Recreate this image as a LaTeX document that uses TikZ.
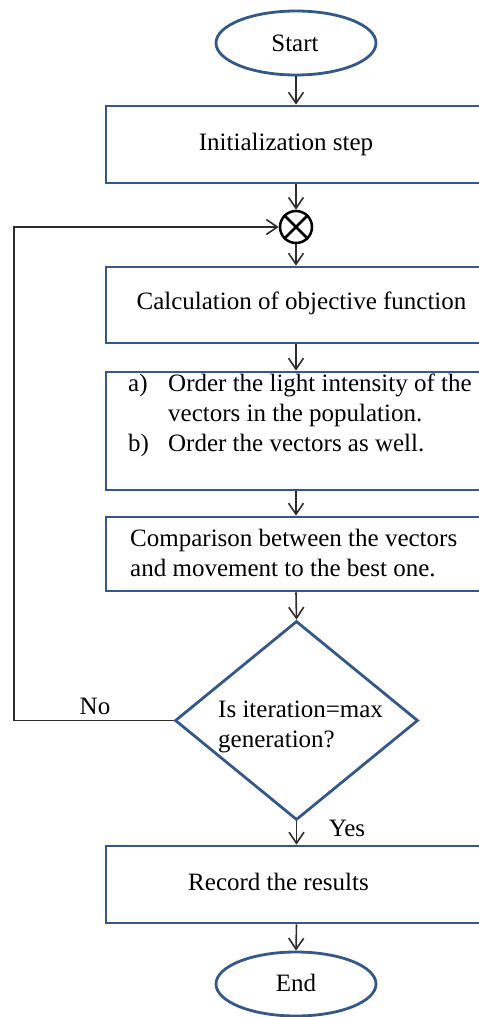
\documentclass[tikz,border=0pt]{standalone}
\usepackage{fontspec}
\setmainfont{Liberation Serif}
\usetikzlibrary{shapes.geometric,arrows.meta}
\definecolor{boxblue}{RGB}{52,88,138}
\definecolor{conn}{RGB}{45,45,45}
\tikzset{
  x=1pt, y=-1pt,
  every node/.style={font=\fontsize{25}{30}\selectfont},
  stepbox/.style={draw=boxblue, line width=2.8pt, rectangle, minimum width=378pt, inner sep=0pt},
  termin/.style={draw=boxblue, line width=2.8pt, ellipse, minimum width=160pt, minimum height=64pt, inner sep=0pt},
  decis/.style={draw=boxblue, line width=2.8pt, diamond, minimum width=243pt, minimum height=199pt, inner sep=0pt},
  txt/.style={inner sep=0pt, text=black},
  flow/.style={draw=conn, line width=1.6pt, -{Straight Barb[length=11pt,width=15pt,line width=1.6pt]}},
  plain/.style={draw=conn, line width=1.6pt},
}
\begin{document}
\begin{tikzpicture}
\clip (0,0) rectangle (479,1017);
\path[use as bounding box] (0,0) rectangle (479,1017);
% shapes
\node[termin] (start) at (296,43) {};
\node[txt] (starttxt) at (295,43) {Start};
\node[stepbox, minimum height=77pt] (init) at (295,144.5) {};
\node[txt] (inittxt) at (286,144) {Initialization step};
\node[circle, draw=black, line width=2.5pt, minimum size=32pt, inner sep=0pt] (circ) at (296,227) {};
\draw[black, line width=2.5pt] (circ.north east) -- (circ.south west) (circ.north west) -- (circ.south east);
\node[stepbox, minimum height=76pt] (calc) at (295,305) {};
\node[txt] (calctxt) at (301.5,303) {Calculation of objective function};
\node[stepbox, minimum height=118pt] (order) at (295,431) {};
\node[txt, anchor=west] (ordertxt) at (128,415) {\begin{tabular}{@{}p{40pt}@{}l@{}}a) & Order the light intensity of the\\ & vectors in the population.\\ b) & Order the vectors as well.\end{tabular}};
\node[stepbox, minimum height=74pt] (comp) at (295,554) {};
\node[txt, anchor=west, align=left] (comptxt) at (130,553) {Comparison between the vectors\\and movement to the best one.};
\node[decis] (dec) at (296.5,720.5) {};
\node[txt, anchor=west, align=left] (dectxt) at (218,727) {Is iteration=max\\generation?};
\node[stepbox, minimum height=77pt] (rec) at (295,884.5) {};
\node[txt] (rectxt) at (278.5,882) {Record the results};
\node[termin] (end) at (296,984) {};
\node[txt] (endtxt) at (296,983) {End};
% labels
\node[txt] (nolbl) at (95,706) {No};
\node[txt] (yeslbl) at (347,828) {Yes};
% connectors
\coordinate (loopx) at (14,0);
\draw[flow] (start.south) -- (start.south |- init.north);
\draw[flow] (start.south |- init.south) -- (circ.north);
\draw[flow] (circ.south) -- (circ.south |- calc.north);
\draw[flow] (circ.south |- calc.south) -- (circ.south |- order.north);
\draw[flow] (circ.south |- order.south) -- (circ.south |- comp.north);
\draw[flow] (circ.south |- comp.south) -- (dec.north);
\draw[flow] (dec.south) -- (dec.south |- rec.north);
\draw[flow] (dec.south |- rec.south) -- (end.north);
\draw[flow] (dec.west) -- (dec.west -| loopx) -- (loopx |- circ.west) -- (circ.west);
\end{tikzpicture}
\end{document}
